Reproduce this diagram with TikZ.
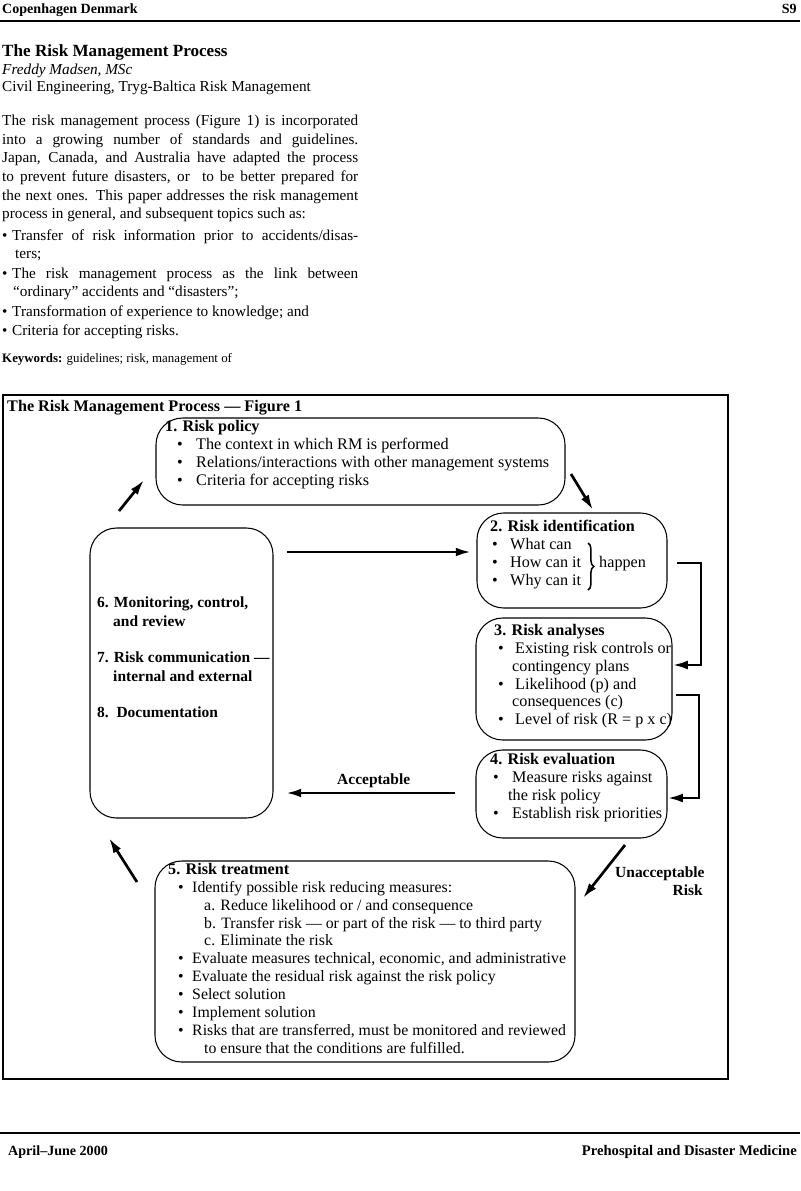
\documentclass[tikz,border=0pt]{standalone}
\usepackage{fontspec}
\setmainfont{Liberation Serif}
\usetikzlibrary{arrows.meta,decorations.pathreplacing}

\newcommand{\figfont}{\fontsize{13.8}{15}\selectfont}
\newcommand{\bodyfont}{\fontsize{13}{16}\selectfont}
\newcommand{\jline}[2][10.68cm]{\makebox[#1][s]{#2}}

\tikzset{
  stage/.style={draw, line width=0.9pt, rounded corners=0.8cm, inner sep=0pt},
  flow/.style={line width=2.3pt, -{Latex[length=13pt,width=7.5pt]}},
  head/.style={anchor=base west, inner sep=0pt, font=\figfont\bfseries},
  txt/.style={anchor=base west, inner sep=0pt, font=\figfont},
  txtsm/.style={txt, font=\fontsize{13.5}{15}\selectfont},
  lbl/.style={anchor=base west, inner sep=0pt, font=\fontsize{13.2}{15}\selectfont\bfseries},
  body/.style={anchor=base west, inner sep=0pt, font=\bodyfont},
}

\begin{document}
\begin{tikzpicture}[x=0.03cm, y=0.03cm]
\useasboundingbox (0,0) rectangle (800,-1191);

%% === INTESTAZIONE ===
\node[body, font=\fontsize{12}{14}\selectfont\bfseries] (hl) at (2,-13) {Copenhagen Denmark};
\node[body, anchor=base east, font=\fontsize{12}{14}\selectfont\bfseries] (hr) at (797,-13) {S9};
\draw[line width=1.1pt] (0,-21) -- (800,-21);

\node[body, font=\fontsize{14.6}{16}\selectfont\bfseries] (title) at (2,-56) {The Risk Management Process};
\node[body, font=\bodyfont\itshape] (auth) at (2,-74) {Freddy Madsen, MSc};
\node[body] (affil) at (2,-91) {Civil Engineering, Tryg-Baltica Risk Management};

%% testo
\foreach \y/\t [count=\i] in {
  125/{\jline{The risk management process (Figure 1) is incorporated}},
  144/{\jline{into a growing number of standards and guidelines.}},
  162/{\jline{Japan, Canada, and Australia have adapted the process}},
  181/{\jline{to prevent future disasters, or\ \ to be better prepared for}},
  200/{\jline{the next ones. This paper addresses the risk management}},
  218/{process in general, and subsequent topics such as:},
  240/{\makebox[0.3cm][l]{\textbullet}\jline[10.38cm]{Transfer of risk information prior to accidents/disas-}},
  258/{\hspace*{0.39cm}ters;},
  278/{\makebox[0.3cm][l]{\textbullet}\jline[10.38cm]{The risk management process as the link between}},
  296/{\hspace*{0.33cm}``ordinary'' accidents and ``disasters'';},
  316/{\makebox[0.3cm][l]{\textbullet}Transformation of experience to knowledge; and},
  335/{\makebox[0.3cm][l]{\textbullet}Criteria for accepting risks.}}
  \node[body] (p\i) at (2,-\y) {\t};

\node[body, font=\fontsize{11}{13}\selectfont] (kw) at (2,-362) {\textbf{Keywords:} guidelines; risk, management of};

%% === FIGURA ===
\draw[line width=0.9pt] (3,-395) rectangle (728,-1079);
\node[head] (ftitle) at (7,-411) {The Risk Management Process --- Figure 1};

%% riquadri
\node[stage, minimum width=12.27cm, minimum height=2.61cm] (b1) at (360.5,-461.5) {};
\node[stage, minimum width=5.70cm, minimum height=2.85cm] (b2) at (572,-560.5) {};
\node[stage, minimum width=5.88cm, minimum height=3.66cm] (b3) at (574,-679) {};
\node[stage, minimum width=5.73cm, minimum height=2.64cm] (b4) at (571.5,-794) {};
\node[stage, minimum width=12.6cm, minimum height=6.03cm] (b5) at (365,-961.5) {};
\node[stage, minimum width=5.49cm, minimum height=8.7cm] (b68) at (181.5,-673) {};

%% 1. Risk policy
\node[head] (h1) at (165,-431) {1. Risk policy};
\foreach \y/\t [count=\i] in {449/{The context in which RM is performed},
    467/{Relations/interactions with other management systems},
    485/{Criteria for accepting risks}} {
  \node[txt] (d1\i) at (177,-\y) {\textbullet};
  \node[txt] (l1\i) at (196,-\y) {\t};
}

%% 2. Risk identification
\node[head] (h2) at (490,-531) {2. Risk identification};
\foreach \y/\t [count=\i] in {549/What can, 567/How can it, 585/Why can it} {
  \node[txt] (d2\i) at (492,-\y) {\textbullet};
  \node[txt] (l2\i) at (510,-\y) {\t};
}
\coordinate (br1) at (588,-543);
\coordinate (br2) at (588,-590);
\draw[line width=1.3pt, decorate, decoration={brace, amplitude=5pt}] (br1) -- (br2);
\node[txt] (hap) at (599,-567) {happen};

%% 3. Risk analyses
\node[head] (h3) at (494,-635) {3. Risk analyses};
\foreach \y in {653,689,724} \node[txt] (d3\y) at (498,-\y) {\textbullet};
\foreach \y/\x/\t [count=\i] in {653/515/{Existing risk controls or},
    671/512/{contingency plans}, 689/515/{Likelihood (p) and},
    706/512/{consequences (c)}, 724/515/{Level of risk (R = p x c)}}
  \node[txt] (l3\i) at (\x,-\y) {\t};

%% 4. Risk evaluation
\node[head] (h4) at (490,-764) {4. Risk evaluation};
\foreach \y in {782,818} \node[txt] (d4\y) at (493,-\y) {\textbullet};
\foreach \y/\x/\t [count=\i] in {782/512/{Measure risks against},
    800/508/{the risk policy}, 818/512/{Establish risk priorities}}
  \node[txt] (l4\i) at (\x,-\y) {\t};

%% 5. Risk treatment
\node[head] (h5) at (168,-874) {5. Risk treatment};
\foreach \y in {892,963,981,999,1017,1035} \node[txtsm] (d5\y) at (178,-\y) {\textbullet};
\foreach \y/\x/\t [count=\i] in {892/192/{Identify possible risk reducing measures:},
    910/204/{a. Reduce likelihood or / and consequence},
    928/204/{b. Transfer risk --- or part of the risk --- to third party},
    945/204/{c. Eliminate the risk},
    963/192/{Evaluate measures technical, economic, and administrative},
    981/192/{Evaluate the residual risk against the risk policy},
    999/192/{Select solution},
    1017/192/{Implement solution},
    1035/192/{Risks that are transferred, must be monitored and reviewed},
    1053/204/{to ensure that the conditions are fulfilled.}}
  \node[txtsm] (l5\i) at (\x,-\y) {\t};

%% 6-8
\foreach \y/\x/\t [count=\i] in {607/97/{6. Monitoring, control,},
    626/113/{and review}, 662/97/{7. Risk communication ---},
    681/113/{internal and external}, 717/97/{8.\ \ Documentation}}
  \node[lbl] (m\i) at (\x,-\y) {\t};

%% frecce
\coordinate (a1s) at (571,-474);  \coordinate (a1e) at (593,-510);
\coordinate (a2s) at (287,-552);  \coordinate (a2e) at (471,-552);
\coordinate (a3s) at (455,-793);  \coordinate (a3e) at (286,-793);
\coordinate (a4s) at (625,-845);  \coordinate (a4e) at (583,-898);
\coordinate (a5s) at (137,-882);  \coordinate (a5e) at (109,-838);
\coordinate (a6s) at (119,-511);  \coordinate (a6e) at (144,-480);

\draw[flow] (a1s) -- (a1e);
\draw[flow] (a2s) -- (a2e);
\draw[flow] (a3s) -- (a3e);
\draw[flow] (a4s) -- (a4e);
\draw[flow] (a5s) -- (a5e);
\draw[flow] (a6s) -- (a6e);

\draw[flow] (677,-563) -- (701,-563) -- (701,-665) -- (b3.east |- 0,-665);
\draw[flow] (676,-695) -- (699,-695) -- (699,-798) -- (b4.east |- 0,-798);

\node[lbl] (acc) at (337,-784) {Acceptable};
\node[lbl] (una) at (615,-877) {Unacceptable};
\node[lbl, anchor=base east] (risk) at (703,-895) {Risk};

%% === PIÈ DI PAGINA ===
\draw[line width=1.1pt] (0,-1133) -- (800,-1133);
\node[body, font=\fontsize{12}{14}\selectfont\bfseries] (fl) at (8,-1155) {April--June 2000};
\node[body, anchor=base east, font=\fontsize{12.5}{14}\selectfont\bfseries] (fr) at (797,-1155) {Prehospital and Disaster Medicine};

\end{tikzpicture}
\end{document}
